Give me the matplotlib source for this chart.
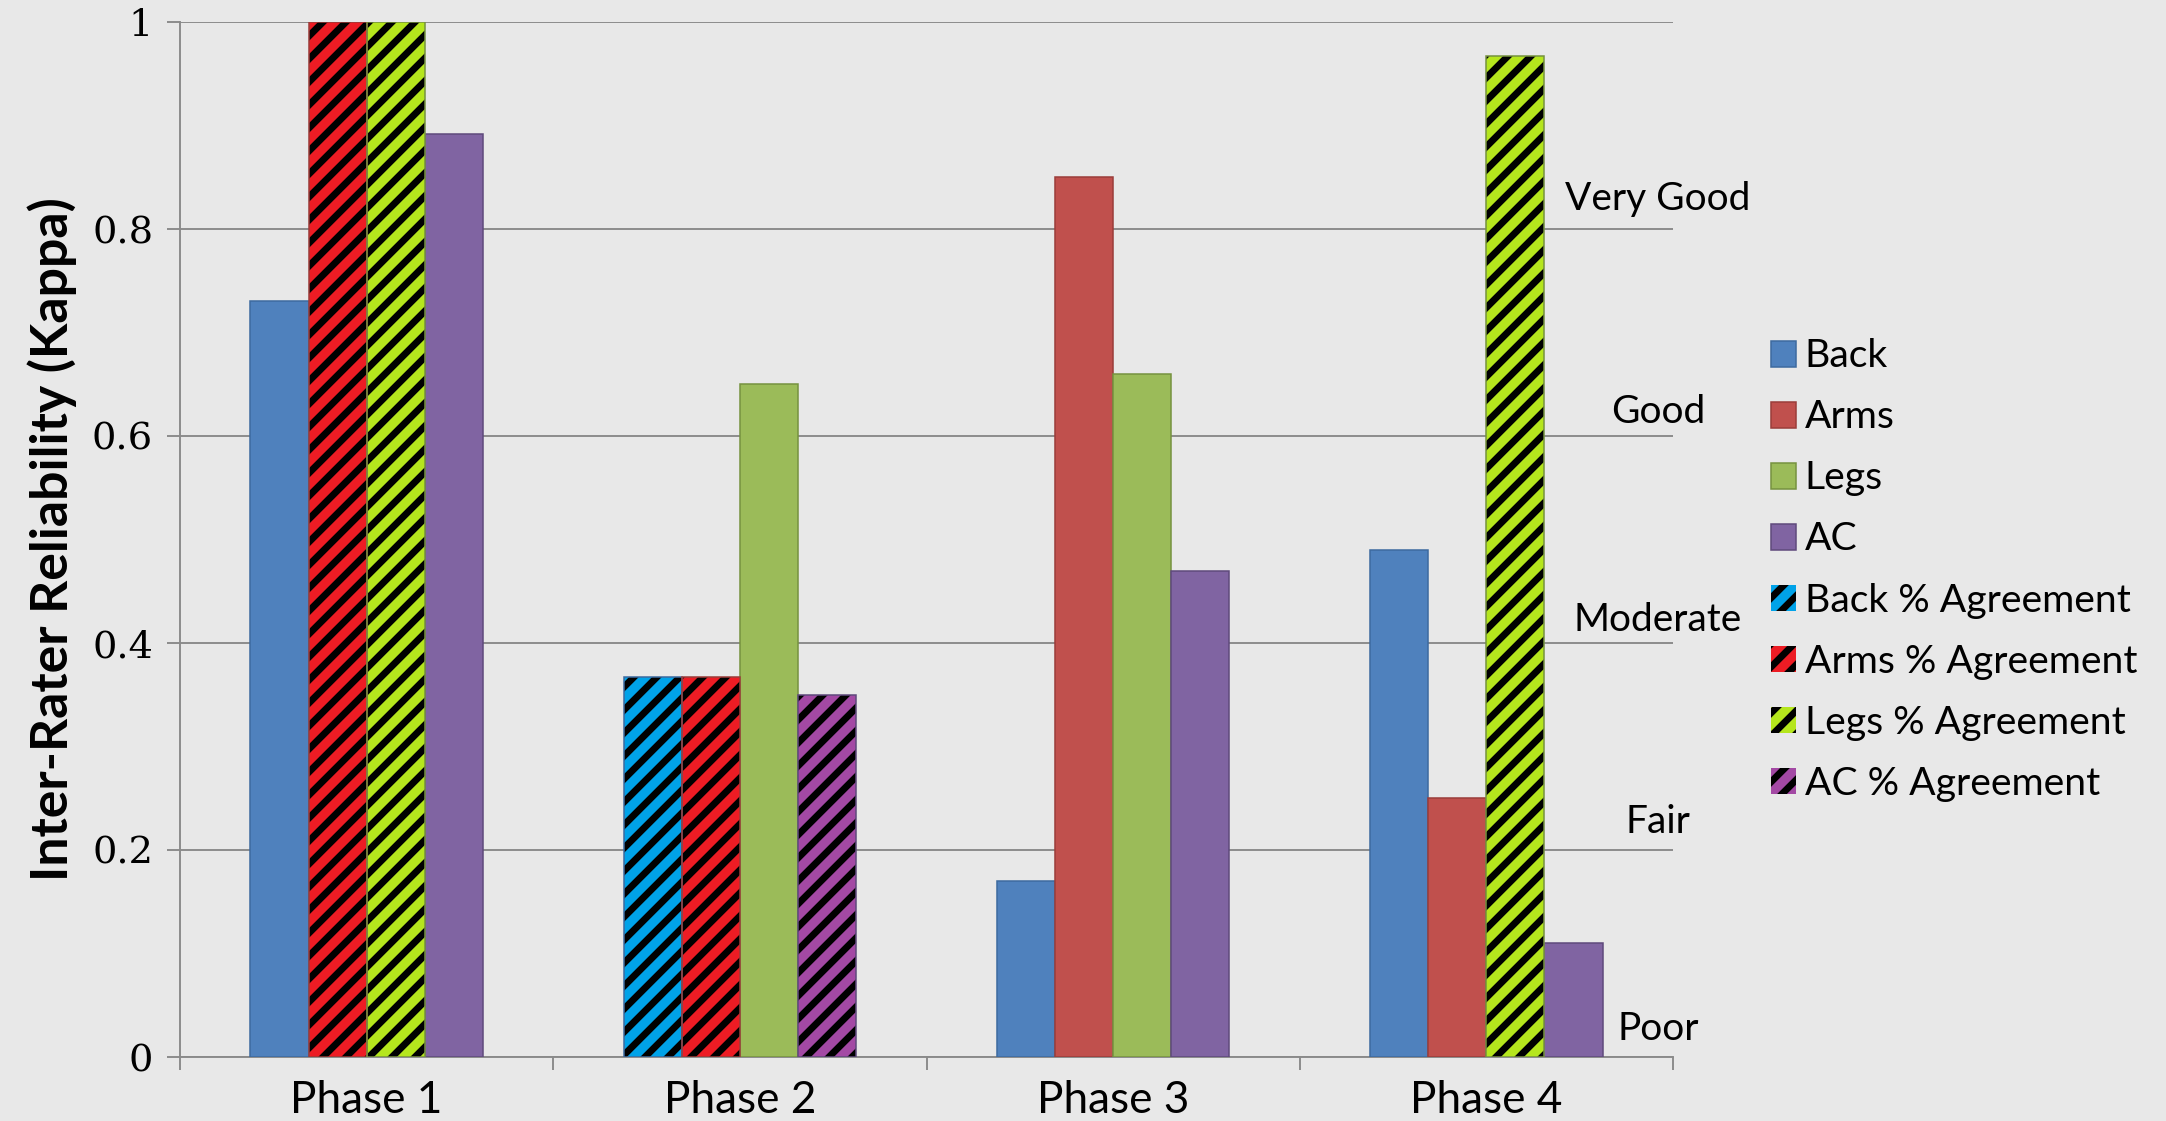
import numpy as np
import matplotlib
matplotlib.use("Agg")
import matplotlib.pyplot as plt

nan = np.nan

# chart data
phases = ['Phase 1', 'Phase 2', 'Phase 3', 'Phase 4']
back = [0.73, nan, 0.17, 0.49]
arms = [nan, nan, 0.85, 0.25]
legs = [nan, 0.65, 0.66, nan]
ac = [0.892, nan, 0.47, 0.11]
back_pct = [nan, 0.367, nan, nan]
arms_pct = [1.0, 0.367, nan, nan]
legs_pct = [1.0, nan, nan, 0.967]
ac_pct = [nan, 0.35, nan, nan]

y_ticks = [0, 0.2, 0.4, 0.6, 0.8, 1.0]
y_tick_labels = ['0', '0.2', '0.4', '0.6', '0.8', '1']
quality_labels = ['Very Good', 'Good', 'Moderate', 'Fair', 'Poor']
quality_levels = [0.829, 0.623, 0.422, 0.227, 0.027]

DPI = 138
BG = '#e8e8e8'
plt.rcParams['hatch.linewidth'] = 3.6
plt.rcParams['hatch.color'] = 'black'
plt.rcParams['font.family'] = ['Lato', 'DejaVu Sans']

fig = plt.figure(figsize=(2166 / DPI, 1121 / DPI), dpi=DPI, facecolor=BG)
ax = fig.add_axes([180 / 2166, 1 - 1057 / 1121, (1673 - 180) / 2166, (1057 - 22) / 1121])
ax.set_facecolor(BG)

x = np.arange(len(phases))
w = 0.1556

# (name, values, slot, face colour, edge colour, hatched?)
series = [
    ('Back', back, 0, '#4f81bd', '#3d6a9f', False),
    ('Arms', arms, 1, '#c0504d', '#9b3d3a', False),
    ('Legs', legs, 2, '#9bbb59', '#76923f', False),
    ('AC', ac, 3, '#8064a2', '#5f4a7c', False),
    ('Back % Agreement', back_pct, 0, '#00a2e8', '#3d6a9f', True),
    ('Arms % Agreement', arms_pct, 1, '#ed1c24', '#9b3d3a', True),
    ('Legs % Agreement', legs_pct, 2, '#b5e61d', '#76923f', True),
    ('AC % Agreement', ac_pct, 3, '#a349a4', '#5f4a7c', True),
]

handles = []
for name, vals, slot, fc, ec, hatched in series:
    pos = x + (slot - 1.5) * w
    if hatched:
        bars = ax.bar(pos, vals, w, color=fc, edgecolor='black', linewidth=0,
                      hatch='//', zorder=3, label=name)
        ax.bar(pos, vals, w, fill=False, edgecolor=ec, linewidth=0.8, zorder=4)
    else:
        bars = ax.bar(pos, vals, w, color=fc, edgecolor=ec, linewidth=0.8,
                      zorder=3, label=name)
    handles.append(bars)

ax.set_xlim(-0.5, len(phases) - 0.5)
ax.set_ylim(0, 1)
ax.set_yticks(y_ticks)
ax.set_yticklabels(y_tick_labels, family='DejaVu Serif', fontsize=20)
ax.yaxis.grid(True, color='#8a8a8a', linewidth=1.0, zorder=0)
ax.set_axisbelow(True)

ax.set_xticks(x)
ax.set_xticklabels(phases, fontsize=23)
ax.set_xticks(np.arange(len(phases) + 1) - 0.5, minor=True)
ax.tick_params(axis='x', which='major', length=0, pad=12)
ax.tick_params(axis='x', which='minor', length=7, width=1.0, color='#8a8a8a')
ax.tick_params(axis='y', length=7, width=1.0, color='#8a8a8a', pad=7)

for side in ['top', 'right']:
    ax.spines[side].set_visible(False)
for side in ['left', 'bottom']:
    ax.spines[side].set_color('#8a8a8a')
    ax.spines[side].set_linewidth(1.0)

ax.set_ylabel('Inter-Rater Reliability (Kappa)', fontsize=27, fontweight='bold', labelpad=8)

for lab, lev in zip(quality_labels, quality_levels):
    ax.text(3.46, lev, lab, ha='center', va='center', fontsize=20.3, zorder=5)

fig.legend(handles=handles, loc='center left', bbox_to_anchor=(1771 / 2166, 1 - 570 / 1121),
           frameon=False, fontsize=20.4, handlelength=0.64, handleheight=0.64,
           handletextpad=0.22, labelspacing=0.64, borderpad=0, borderaxespad=0)

fig.savefig('out.png', dpi=DPI, facecolor=BG)
